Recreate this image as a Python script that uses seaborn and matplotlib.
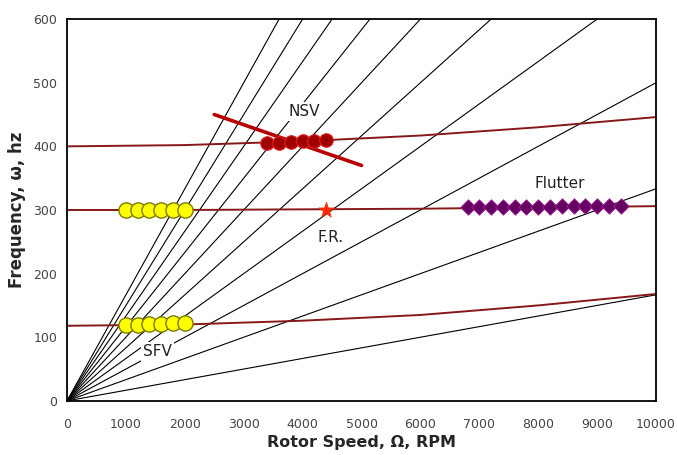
import numpy as np
import pandas as pd
import matplotlib
matplotlib.use("Agg")
import matplotlib.pyplot as plt
import seaborn as sns

# engine order excitation lines (frequency = order * rpm / 60)
orders = [1, 2, 3, 4, 5, 6, 7, 8, 9, 10]
order_rpm = [0, 10000]

# blade mode frequencies
mode_rpm = [0, 2000, 4000, 6000, 8000, 10000]
mode1_hz = [118, 120, 126, 135, 150, 168]
mode2_hz = [300, 300, 301, 302, 304, 306]
mode3_hz = [400, 402, 408, 417, 430, 446]

# SFV points (yellow)
sfv_rpm = [1000, 1200, 1400, 1600, 1800, 2000]
sfv_hi_hz = [300, 300, 300, 300, 300, 300]
sfv_lo_hz = [120, 120, 121, 121, 122, 123]

# NSV points and trend line
nsv_rpm = [3400, 3600, 3800, 4000, 4200, 4400]
nsv_hz = [405, 406, 407, 408, 409, 410]
nsv_line_rpm = [2500, 5000]
nsv_line_hz = [450, 370]

# forced response point
fr_rpm = [4400]
fr_hz = [300]

# flutter points
flutter_rpm = [6800, 7000, 7200, 7400, 7600, 7800, 8000, 8200, 8400, 8600, 8800, 9000, 9200, 9400]
flutter_hz = [305, 305, 305, 305, 305, 305, 305, 305, 306, 306, 306, 307, 307, 307]

sns.set_style("white")
plt.rcParams['font.family'] = ['DejaVu Sans']

fig = plt.figure(figsize=(6.77, 4.55), dpi=100)
ax = fig.add_axes([0.099, 0.119, 0.870, 0.839])

for n in orders:
    eo = pd.DataFrame({"rpm": order_rpm, "hz": [n * r / 60 for r in order_rpm]})
    sns.lineplot(data=eo, x="rpm", y="hz", color="black", linewidth=0.8, ax=ax)

for hz in [mode1_hz, mode2_hz, mode3_hz]:
    sns.lineplot(x=mode_rpm, y=hz, color="#861818", linewidth=1.4, ax=ax)

sns.lineplot(x=nsv_line_rpm, y=nsv_line_hz, color="#b80000", linewidth=2.6, ax=ax)

sns.scatterplot(x=sfv_rpm, y=sfv_hi_hz, color="#ffff00", edgecolor="#7a7a00",
                s=120, linewidth=1.0, zorder=5, ax=ax)
sns.scatterplot(x=sfv_rpm, y=sfv_lo_hz, color="#ffff00", edgecolor="#7a7a00",
                s=120, linewidth=1.0, zorder=5, ax=ax)
sns.scatterplot(x=nsv_rpm, y=nsv_hz, color="#a00000", edgecolor="#e02020",
                s=95, linewidth=0.8, zorder=5, ax=ax)
sns.scatterplot(x=fr_rpm, y=fr_hz, color="#ff2a00", edgecolor="#ff2a00", marker="*",
                s=140, linewidth=0.5, zorder=5, ax=ax)
sns.scatterplot(x=flutter_rpm, y=flutter_hz, color="#660060", edgecolor="#a0209a", marker="D",
                s=62, linewidth=0.6, zorder=5, ax=ax)

box = dict(facecolor="white", edgecolor="none", pad=1.5)
ax.text(4020, 455, "NSV", fontsize=11, ha="center", va="center", color="#222222", bbox=box, zorder=4)
ax.text(4470, 257, "F.R.", fontsize=11, ha="center", va="center", color="#222222", bbox=box, zorder=4)
ax.text(8370, 342, "Flutter", fontsize=11, ha="center", va="center", color="#222222", bbox=box, zorder=4)
ax.text(1530, 77, "SFV", fontsize=11, ha="center", va="center", color="#222222", bbox=box, zorder=4)

ax.set_xlim(0, 10000)
ax.set_ylim(0, 600)
ax.set_xticks(range(0, 10001, 1000))
ax.set_yticks(range(0, 601, 100))
ax.tick_params(axis="x", direction="out", length=2, width=1, labelsize=9, labelcolor="#444444", pad=10)
ax.tick_params(axis="y", direction="out", length=4, width=1, labelsize=9, labelcolor="#444444", pad=3)
for sp in ax.spines.values():
    sp.set_color("black")
    sp.set_linewidth(1.3)

ax.set_xlabel("Rotor Speed, \u03a9, RPM", fontsize=11.5, fontweight="bold", labelpad=3)
ax.set_ylabel("Frequency, \u03c9, hz", fontsize=12, fontweight="bold", labelpad=5)

fig.savefig("out.png", dpi=100)
